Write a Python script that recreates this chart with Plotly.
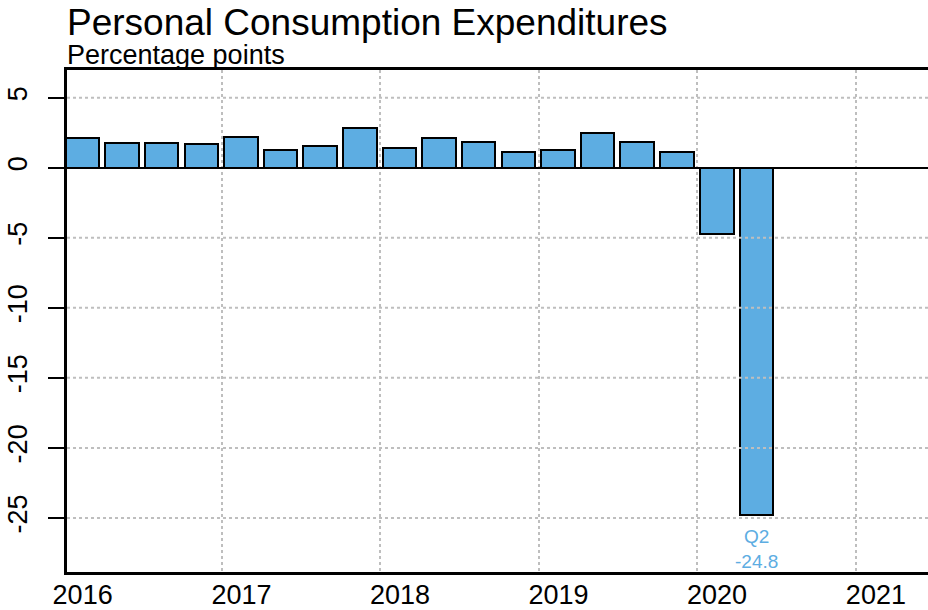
import pandas as pd
import plotly.graph_objects as go

# quarterly contribution of PCE to real GDP growth, percentage points
quarters = ["2016Q1", "2016Q2", "2016Q3", "2016Q4",
            "2017Q1", "2017Q2", "2017Q3", "2017Q4",
            "2018Q1", "2018Q2", "2018Q3", "2018Q4",
            "2019Q1", "2019Q2", "2019Q3", "2019Q4",
            "2020Q1", "2020Q2"]
pce = [2.10, 1.76, 1.76, 1.69,
       2.17, 1.26, 1.57, 2.84,
       1.43, 2.14, 1.81, 1.10,
       1.29, 2.50, 1.86, 1.10,
       -4.74, -24.8]
year_labels = ["2016", "2017", "2018", "2019", "2020", "2021"]
y_ticks = [-25, -20, -15, -10, -5, 0, 5]

BAR = "#5DADE2"
GRID = "#BEBEBE"
FONT = "Liberation Sans, Arial, sans-serif"

# bars sit at the middle of each quarter
per = pd.PeriodIndex(quarters, freq="Q")
mid = per.start_time + (per.end_time - per.start_time) / 2
x = [d.strftime("%Y-%m-%d") for d in mid]
# year labels sit under the first quarter of each year
label_pos = [f"{y}-02-15" for y in year_labels]

fig = go.Figure()
fig.add_trace(go.Bar(
    x=x, y=pce,
    width=77 * 24 * 3600 * 1000,
    marker=dict(color=BAR, line=dict(color="black", width=2)),
    hoverinfo="x+y",
))

# horizontal dotted grid drawn over the bars, as in the original
for t in y_ticks:
    if t == 0:
        continue
    fig.add_hline(y=t, line=dict(color=GRID, width=2, dash="dot"), layer="above")

last_q = quarters[-1][-2:]
fig.add_annotation(
    x=x[-1], y=-27.2, xref="x", yref="y",
    text=f"{last_q}<br>{pce[-1]:.1f}",
    showarrow=False, yanchor="middle",
    font=dict(family=FONT, size=19, color=BAR),
)

fig.add_annotation(
    x=0, xref="paper", y=1.094, yref="paper", xshift=-2,
    text="Personal Consumption Expenditures",
    showarrow=False, xanchor="left", yanchor="middle",
    font=dict(family=FONT, size=37, color="black"),
)
fig.add_annotation(
    x=0, xref="paper", y=1.03, yref="paper", xshift=-2,
    text="Percentage points",
    showarrow=False, xanchor="left", yanchor="middle",
    font=dict(family=FONT, size=27, color="black"),
)

fig.update_layout(
    width=928, height=610,
    margin=dict(l=67, r=0, t=70, b=38, autoexpand=False),
    plot_bgcolor="white", paper_bgcolor="white",
    showlegend=False,
    font=dict(family=FONT, size=27, color="black"),
    bargap=0,
)
fig.update_xaxes(
    type="date", automargin=False,
    range=["2016-01-10", "2021-06-15"],
    tickmode="array", tickvals=label_pos, ticktext=year_labels,
    ticks="", showgrid=False, zeroline=False, ticklabelstandoff=-3,
    showline=True, linecolor="black", linewidth=2.5, mirror=True,
    minor=dict(dtick="M12", tick0="2016-01-01", showgrid=True,
               gridcolor=GRID, griddash="dot", gridwidth=2, ticks=""),
)
fig.update_yaxes(
    automargin=False,
    range=[-28.86, 6.98],
    tickmode="array", tickvals=y_ticks, ticktext=[str(t) for t in y_ticks],
    tickangle=-90, ticklabelstandoff=10,
    ticks="outside", ticklen=16, tickwidth=2, tickcolor="black",
    showgrid=False,
    zeroline=True, zerolinecolor="black", zerolinewidth=1.5,
    showline=True, linecolor="black", linewidth=2.5, mirror=False,
)

# drop the default page margin so the figure sits at the window's corner
fig.write_html("out.html",
               config={"displayModeBar": False},
               post_script="document.body.style.margin='0';"
                           "document.body.style.overflow='hidden';")
